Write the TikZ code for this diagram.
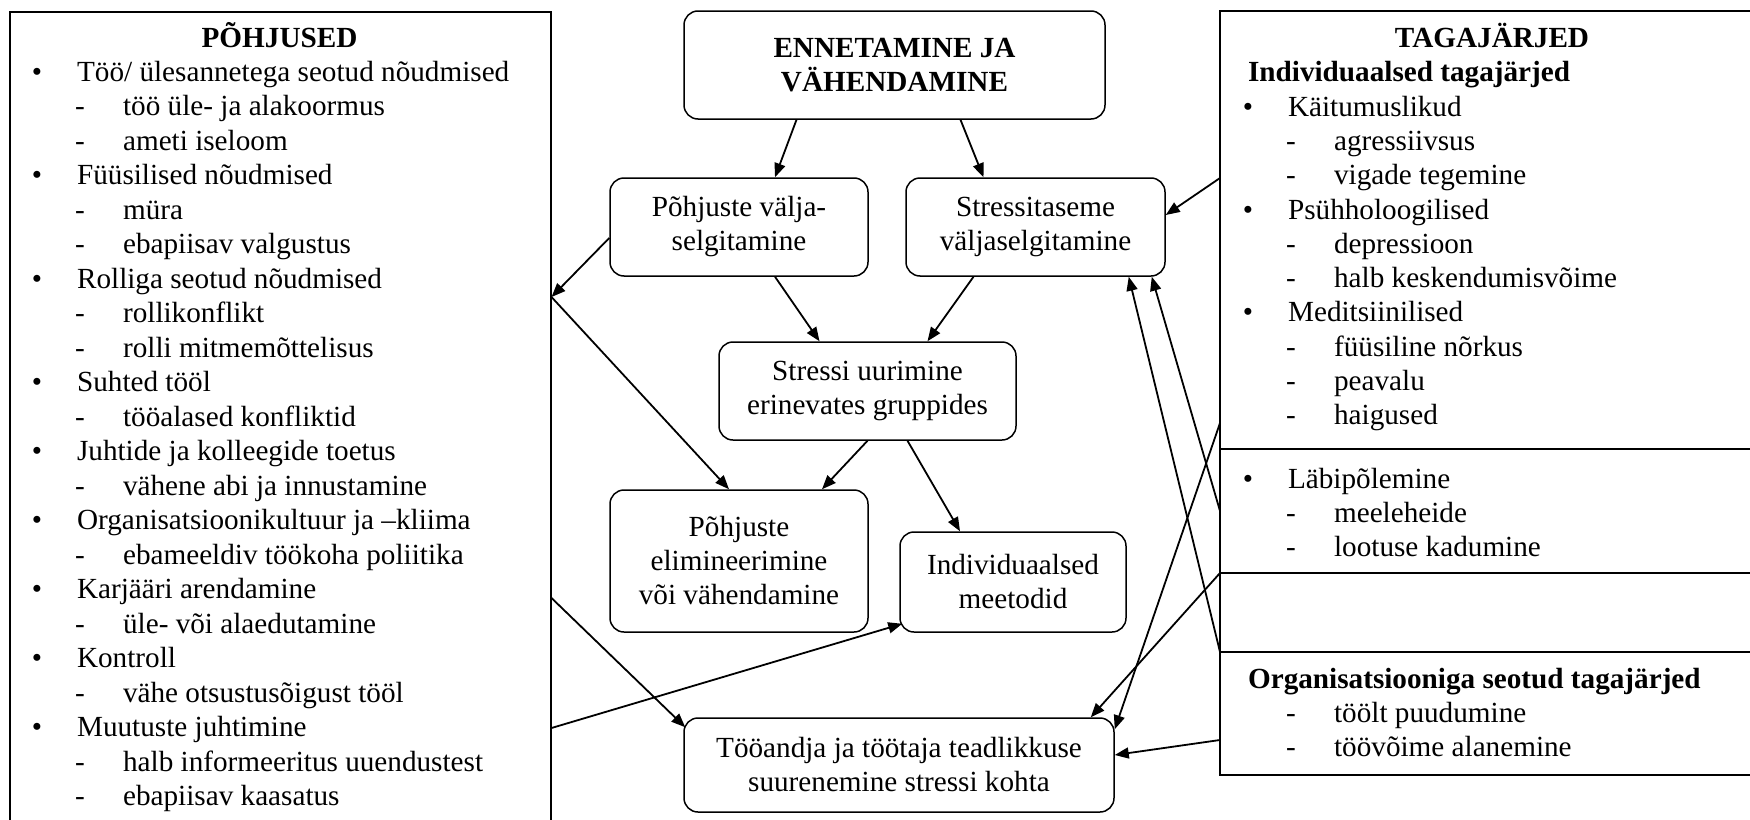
\documentclass[tikz,border=0pt]{standalone}
\usepackage{fontspec}
\setmainfont{Liberation Serif}
\usetikzlibrary{arrows.meta,positioning,calc}

\begin{document}
\begin{tikzpicture}[
    x=0.5pt, y=-0.5pt,
    font=\fontsize{14.6pt}{17pt}\selectfont,
    box/.style={draw, rounded corners=7pt, align=center, inner sep=2pt, line width=0.75pt},
    panel/.style={draw, rectangle, line width=0.75pt, minimum width=272pt, inner sep=0pt, outer sep=0pt},
    arrow/.style={-{Triangle[length=7pt,width=5.5pt]}, line width=0.9pt}
  ]
    \useasboundingbox (0,0) rectangle (1750,819);
    \fill[white] (0,0) rectangle (1750,819);
    \clip (0,0) rectangle (1750,819);

    % causes (left)
    \node[draw, line width=0.75pt, minimum width=270.5pt, minimum height=420pt, inner sep=0pt, anchor=north west] (causes) at (9,11) {};
    \node[anchor=base] (ctitle) at (279.5,47) {\bfseries PÕHJUSED};
    \foreach \k/\t [count=\i from 0] in {1/{Töö/ ülesannetega seotud nõudmised}, 2/{töö üle- ja alakoormus}, 2/{ameti iseloom},
        1/{Füüsilised nõudmised}, 2/{müra}, 2/{ebapiisav valgustus},
        1/{Rolliga seotud nõudmised}, 2/{rollikonflikt}, 2/{rolli mitmemõttelisus},
        1/{Suhted tööl}, 2/{tööalased konfliktid},
        1/{Juhtide ja kolleegide toetus}, 2/{vähene abi ja innustamine},
        1/{Organisatsioonikultuur ja –kliima}, 2/{ebameeldiv töökoha poliitika},
        1/{Karjääri arendamine}, 2/{üle- või alaedutamine},
        1/{Kontroll}, 2/{vähe otsustusõigust tööl},
        1/{Muutuste juhtimine}, 2/{halb informeeritus uuendustest}, 2/{ebapiisav kaasatus}}{
      \ifnum\k=1
        \node[anchor=base] (cm\i) at (37,{81+34.5*\i}) {\textbullet};
        \node[anchor=base west] (ci\i) at (70,{81+34.5*\i}) {\t};
      \else
        \node[anchor=base] (cm\i) at (80,{81+34.5*\i}) {-};
        \node[anchor=base west] (ci\i) at (116,{81+34.5*\i}) {\t};
      \fi
    }

    % consequences (right)
    \node[panel, minimum height=219pt, anchor=north west] (res1) at (1220,11) {};
    \node[panel, minimum height=62pt, below=0pt of res1] (res2) {};
    \node[panel, minimum height=39.5pt, below=0pt of res2] (res3) {};
    \node[panel, minimum height=61.5pt, below=0pt of res3] (res4) {};
    \node[anchor=base] (rtitle) at (1492,47) {\bfseries TAGAJÄRJED};
    \node[anchor=base west] (rind) at (1241,81) {\bfseries Individuaalsed tagajärjed};
    \node[anchor=base west] (rorg) at (1241,688) {\bfseries Organisatsiooniga seotud tagajärjed};
    \foreach \k/\y/\t [count=\i] in {1/116/{Käitumuslikud}, 2/150/{agressiivsus}, 2/184/{vigade tegemine},
        1/219/{Psühholoogilised}, 2/253/{depressioon}, 2/287/{halb keskendumisvõime},
        1/321/{Meditsiinilised}, 2/356/{füüsiline nõrkus}, 2/390/{peavalu}, 2/424/{haigused},
        1/488/{Läbipõlemine}, 2/522/{meeleheide}, 2/556/{lootuse kadumine},
        2/722/{töölt puudumine}, 2/756/{töövõime alanemine}}{
      \ifnum\k=1
        \node[anchor=base] (rm\i) at (1248,\y) {\textbullet};
        \node[anchor=base west] (ri\i) at (1281,\y) {\t};
      \else
        \node[anchor=base] (rm\i) at (1291,\y) {-};
        \node[anchor=base west] (ri\i) at (1327,\y) {\t};
      \fi
    }

    % prevention (middle)
    \node[box, minimum width=210.5pt, minimum height=54pt] (enn) at (894.5,65) {{\bfseries ENNETAMINE JA}\\{\bfseries VÄHENDAMINE}};
    \node[box, minimum width=129pt, minimum height=49pt] (pv) at (739,227) {Põhjuste välja-\\selgitamine};
    \node[box, minimum width=129.5pt, minimum height=49pt] (sv) at (1035.5,227) {Stressitaseme\\väljaselgitamine};
    \node[box, minimum width=148.5pt, minimum height=49pt] (su) at (867.5,391) {Stressi uurimine\\erinevates gruppides};
    \node[box, minimum width=129pt, minimum height=71pt] (pe) at (739,561) {Põhjuste\\elimineerimine\\või vähendamine};
    \node[box, minimum width=113pt, minimum height=50pt] (im) at (1013,582) {Individuaalsed\\meetodid};
    \node[box, minimum width=215pt, minimum height=47pt] (ta) at (899,765) {Tööandja ja töötaja teadlikkuse\\suurenemine stressi kohta};

    % edge points
    \coordinate (cA) at ($(causes.north east)+(0,286)$);
    \coordinate (cB) at ($(causes.north east)+(0,587)$);
    \coordinate (cC) at ($(causes.north east)+(0,717)$);
    \coordinate (rA) at ($(res1.north west)+(0,167)$);
    \coordinate (rB) at ($(res1.north west)+(0,412)$);
    \coordinate (rC) at ($(res4.south west)+(0,-35)$);

    \draw[arrow] ($(enn.south)+(-98,0)$) -- ($(pv.north)+(36,0)$);
    \draw[arrow] ($(enn.south)+(66,0)$) -- ($(sv.north)+(-52,0)$);
    \draw[arrow] ($(pv.south)+(36,0)$) -- ($(su.north)+(-48,0)$);
    \draw[arrow] ($(sv.south)+(-62,0)$) -- ($(su.north)+(60,0)$);
    \draw[arrow] ($(pv.west)+(0,11)$) -- (cA);
    \draw[arrow] (cA) -- ($(pe.north)+(-10,0)$);
    \draw[arrow] (su.south) -- ($(pe.north)+(83,0)$);
    \draw[arrow] ($(su.south)+(40,0)$) -- ($(im.north)+(-53,0)$);
    \draw[arrow] (cB) -- ($(ta.north west)+(2,10)$);
    \draw[arrow] (cC) -- ($(im.south west)+(3,-9)$);
    \draw[arrow] (rA) -- ($(sv.east)+(0,-12)$);
    \draw[arrow] (res2.west) -- ($(sv.south east)+(-14,0)$);
    \draw[arrow] (res3.south west) -- ($(sv.south east)+(-37,0)$);
    \draw[arrow] (rB) -- ($(ta.north east)+(0,12)$);
    \draw[arrow] (res2.south west) -- ($(ta.north east)+(-24,0)$);
    \draw[arrow] (rC) -- ($(ta.east)+(0,-10)$);
\end{tikzpicture}
\end{document}
